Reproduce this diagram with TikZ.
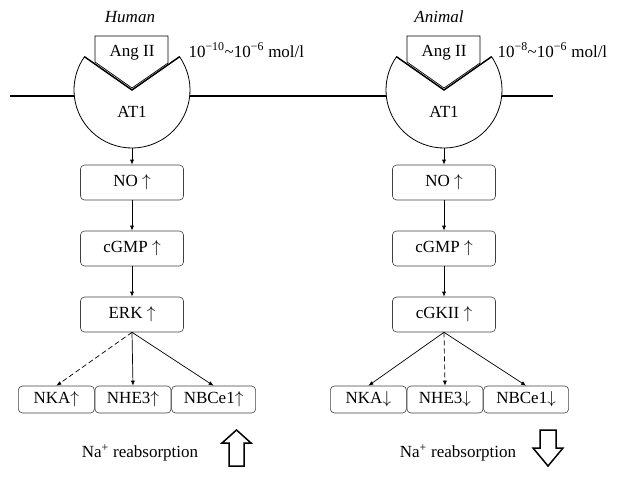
\documentclass[tikz,border=0pt]{standalone}
\usepackage{fontspec}
\setmainfont{Liberation Serif}
\usetikzlibrary{positioning, arrows.meta}

\tikzset{
    txt/.style={font=\fontsize{17}{19}\selectfont},
    box/.style={txt, draw=black!75, line width=0.6pt, rounded corners=4pt, minimum width=103pt, minimum height=35pt, inner sep=0pt},
    sbox/.style={box, minimum width=76pt, minimum height=27pt},
    link/.style={-{Latex[length=5pt, width=4pt]}, line width=0.7pt},
    dlink/.style={link, dash pattern=on 5pt off 3pt},
    bigarrow/.style={line width=1.5pt, line join=miter, fill=white},
}

\begin{document}
\begin{tikzpicture}[x=1pt, y=1pt]

    % Columns and receptor
    \def\xh{132}    % column, Human
    \def\xa{444}    % column, Animal
    \def\yc{-90}    % centre of AT1
    \def\r{58}      % radius of AT1
    \def\ym{-96}    % membrane
    \coordinate (hc) at (\xh, \yc);
    \coordinate (ac) at (\xa, \yc);
    \coordinate (hb) at (\xh, \yc-\r);
    \coordinate (ab) at (\xa, \yc-\r);

    \useasboundingbox (0,0) rectangle (617,-477);

    % Membrane
    \draw[line width=1.5pt] (10,\ym) -- (553,\ym);

    % AT1 receptors with Ang II
    \foreach \c/\x in {hc/\xh, ac/\xa}{
        \filldraw[fill=white, line width=0.8pt] (\c) -- ++(35:\r) arc[start angle=35, end angle=-215, radius=\r] -- cycle;
        \filldraw[fill=white, line width=0.7pt] ({\x-37},{\yc+28}) -- ({\x-37},-36) -- ({\x+36},-36) -- ({\x+36},{\yc+27}) -- (\x,{\yc+2}) -- cycle;
        \draw[line width=1.4pt] (\c) ++(145:\r) -- (\c) -- ++(35:\r);
    }
    \node[txt] (angh) at (\xh,-53) {Ang II};
    \node[txt] (anga) at (\xa,-53) {Ang II};
    \node[txt] (at1h) at (\xh,-112) {AT1};
    \node[txt] (at1a) at (\xa,-112) {AT1};

    % Titles and concentrations
    \node[txt, font=\fontsize{17}{19}\selectfont\itshape] (humt) at (130,-17) {Human};
    \node[txt, font=\fontsize{17}{19}\selectfont\itshape] (anit) at (439,-17) {Animal};
    \node[txt, anchor=west] (conh) at (185,-50) {10\textsuperscript{−10}\textasciitilde10\textsuperscript{−6} mol/l};
    \node[txt, anchor=west] (cona) at (494,-50) {10\textsuperscript{−8}\textasciitilde10\textsuperscript{−6} mol/l};

    % Pathway, Human
    \node[box] (noh) at (\xh,-182.5) {NO $\uparrow$};
    \node[box] (cgmph) at (\xh,-248.5) {cGMP $\uparrow$};
    \node[box] (erkh) at (\xh,-314.5) {ERK $\uparrow$};
    \node[sbox] (nheh) at (133,-399.5) {NHE3$\uparrow$};
    \node[sbox, left=0pt of nheh] (nkah) {NKA$\uparrow$};
    \node[sbox, right=0pt of nheh, minimum width=84pt] (nbch) {NBCe1$\uparrow$};

    % Pathway, Animal
    \node[box] (noa) at (\xa,-182.5) {NO $\uparrow$};
    \node[box] (cgmpa) at (\xa,-248.5) {cGMP $\uparrow$};
    \node[box] (cgka) at (\xa,-314.5) {cGKII $\uparrow$};
    \node[sbox] (nhea) at (445,-399.5) {NHE3$\downarrow$};
    \node[sbox, left=0pt of nhea] (nkaa) {NKA$\downarrow$};
    \node[sbox, right=0pt of nhea, minimum width=85pt] (nbca) {NBCe1$\downarrow$};

    % Arrows
    \draw[link] (hb) -- (noh);
    \draw[link] (noh) -- (cgmph);
    \draw[link] (cgmph) -- (erkh);
    \draw[dlink] (erkh.south) -- (nkah.north);
    \draw[link] (erkh.south) -- (nheh.north);
    \draw[link] (erkh.south) -- (nbch.north);

    \draw[link] (ab) -- (noa);
    \draw[link] (noa) -- (cgmpa);
    \draw[link] (cgmpa) -- (cgka);
    \draw[link] (cgka.south) -- (nkaa.north);
    \draw[dlink] (cgka.south) -- (nhea.north);
    \draw[link] (cgka.south) -- (nbca.north);

    % Na+ reabsorption
    \node[txt] (nah) at (140,-453) {Na\textsuperscript{+} reabsorption};
    \node[txt] (naa) at (458,-453) {Na\textsuperscript{+} reabsorption};
    \draw[bigarrow] (229,-466) -- (229,-443) -- (222,-443) -- (236.5,-430) -- (251,-443) -- (244,-443) -- (244,-466) -- cycle;
    \draw[bigarrow] (540,-430) -- (556,-430) -- (556,-448) -- (563,-448) -- (548,-466) -- (533,-448) -- (540,-448) -- cycle;

\end{tikzpicture}
\end{document}
